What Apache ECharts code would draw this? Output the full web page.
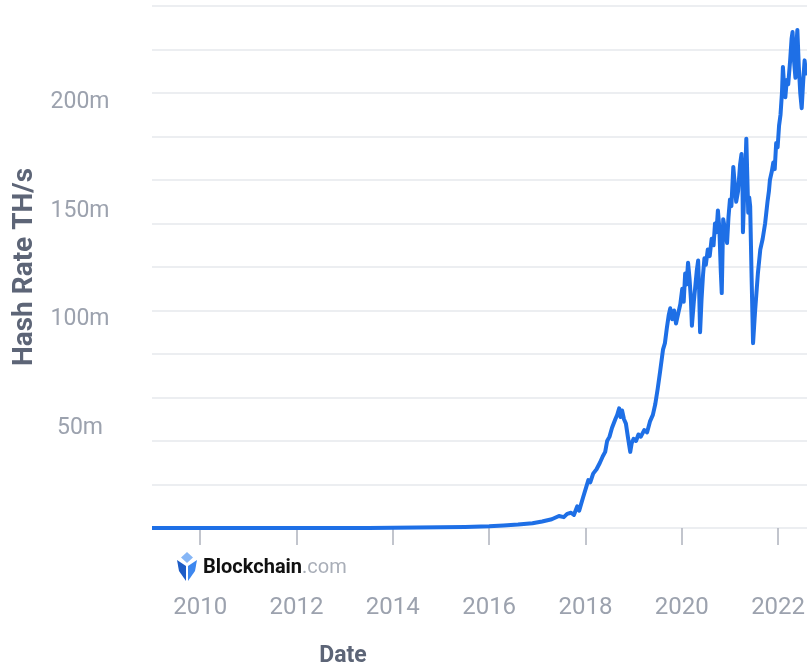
<!DOCTYPE html>
<html>
<head>
<meta charset="utf-8">
<script src="https://cdn.jsdelivr.net/npm/echarts@6/dist/echarts.min.js"></script>
<style>
html,body{margin:0;padding:0;background:#fff;}
#chart{width:807px;height:670px;}
</style>
</head>
<body>
<div id="chart"></div>
<script>
// decimal year of each reading
const years = [
2009.0,2010.0,2011.0,2012.0,2013.0,2013.5,2014.0,2014.5,2015.0,2015.5,
2016.0,2016.3,2016.6,2016.9,2017.1,2017.3,2017.45,2017.55,2017.62,2017.7,
2017.76,2017.83,2017.87,2017.95,2018.06,2018.1,2018.16,2018.23,2018.30,2018.36,
2018.41,2018.45,2018.50,2018.55,2018.62,2018.66,2018.70,2018.73,2018.76,2018.80,
2018.84,2018.88,2018.93,2018.96,2019.00,2019.05,2019.10,2019.15,2019.22,2019.28,
2019.34,2019.40,2019.45,2019.50,2019.55,2019.61,2019.65,2019.69,2019.73,2019.76,
2019.80,2019.84,2019.88,2019.93,2019.97,2020.01,2020.04,2020.07,2020.10,2020.13,
2020.16,2020.19,2020.21,2020.25,2020.28,2020.31,2020.34,2020.36,2020.38,2020.41,
2020.44,2020.47,2020.50,2020.54,2020.58,2020.62,2020.66,2020.69,2020.72,2020.75,
2020.78,2020.81,2020.83,2020.86,2020.90,2020.94,2020.97,2021.00,2021.03,2021.07,
2021.10,2021.13,2021.17,2021.21,2021.24,2021.26,2021.27,2021.29,2021.32,2021.34,
2021.36,2021.38,2021.40,2021.42,2021.45,2021.48,2021.50,2021.52,2021.55,2021.58,
2021.63,2021.68,2021.73,2021.78,2021.81,2021.83,2021.87,2021.90,2021.93,2021.96,
2021.99,2022.02,2022.05,2022.08,2022.10,2022.12,2022.15,2022.18,2022.21,2022.25,
2022.28,2022.30,2022.33,2022.36,2022.38,2022.40,2022.43,2022.46,2022.49,2022.52,
2022.55,2022.58,2022.62
];
// hash rate, millions of TH/s
const hashRate = [
0,0,0.001,0.01,0.02,0.05,0.1,0.2,0.3,0.45,
0.8,1.2,1.6,2.2,3,4,5.5,5,6.5,7,
6,10,8,14,22,21,25,27,30,33,
35,40,42,46,50,52,55,51,54,50,
48,42,35,39,41,40,43,42,45,44,
49,52,57,64,72,82,85,92,98,101,
96,100,94,99,103,110,104,117,112,122,
115,105,93,104,111,118,123,110,90,105,
116,124,121,128,125,133,130,140,136,146,
138,118,108,142,137,131,143,151,148,166,
158,150,155,167,172,160,136,150,165,179,
162,145,152,148,115,85,92,99,108,117,
128,133,140,150,155,160,164,168,165,177,
175,185,190,200,212,205,198,206,204,215,
225,228,215,207,222,229,212,200,193,205,
215,209,212
];
const yLabelValues = [50, 100, 150, 200];
const xLabelValues = [2010, 2012, 2014, 2016, 2018, 2020, 2022];

const seriesData = years.map((y, i) => [y, hashRate[i]]);

const chart = echarts.init(document.getElementById('chart'), null, {renderer: 'canvas'});
const labelColor = '#9ca2ae';
const titleColor = '#5d6577';
const font = 'Roboto, "Noto Sans", sans-serif';

chart.setOption({
  animation: false,
  backgroundColor: '#ffffff',
  grid: {left: 152, right: 0, top: 6, bottom: 142, containLabel: false, outerBoundsMode: 'none'},
  xAxis: {
    type: 'value',
    min: 2009,
    max: 2022.6,
    offset: 30,
    axisLine: {show: false},
    splitLine: {show: false},
    axisTick: {show: true, customValues: xLabelValues, length: 17,
      lineStyle: {color: '#aeb3bd', width: 1.5}},
    axisLabel: {customValues: xLabelValues, formatter: v => String(v),
      fontSize: 24, color: labelColor, fontFamily: font, margin: 38}
  },
  yAxis: [
    {
      type: 'value', min: 0, max: 240, interval: 20, position: 'left',
      axisLine: {show: false}, axisTick: {show: false},
      axisLabel: {show: false},
      splitLine: {show: true, lineStyle: {color: '#e6e8ec', width: 1.5}},
      name: 'Hash Rate TH/s', nameLocation: 'middle', nameGap: 113, nameRotate: 90,
      nameTextStyle: {fontSize: 28, fontWeight: 'bold', color: titleColor, fontFamily: font}
    },
    {
      type: 'value', min: 0, max: 240, position: 'left', offset: 0,
      axisLine: {show: false}, axisTick: {show: false},
      splitLine: {show: false},
      axisLabel: {customValues: yLabelValues, formatter: v => v + 'm',
        fontSize: 23, color: labelColor, fontFamily: font, align: 'center',
        verticalAlign: 'top', lineHeight: 18, margin: 72}
    }
  ],
  series: [{
    type: 'line',
    yAxisIndex: 0,
    data: seriesData,
    showSymbol: false,
    smooth: false,
    lineStyle: {color: '#1e6fe6', width: 4, join: 'round'},
    z: 5
  }],
  graphic: [
    {type: 'rect', z: 100, shape: {x: 202, y: 552, width: 148, height: 30}, style: {fill: '#ffffff'}},
    {type: 'polygon', z: 101, shape: {points: [[187,552],[193,557.5],[187,563],[181,557.5]]}, style: {fill: '#86b6f6'}},
    {type: 'polygon', z: 101, shape: {points: [[177,560],[186,566],[186,581],[179,571]]}, style: {fill: '#1d5cc6'}},
    {type: 'polygon', z: 101, shape: {points: [[197,560],[188,566],[188,581],[195,571]]}, style: {fill: '#3d87ef'}},
    {type: 'text', z: 101, x: 203, y: 568, style: {
      text: '{b|Blockchain}{c|.com}', verticalAlign: 'middle', align: 'left',
      rich: {
        b: {fontSize: 20, fontWeight: 'bold', fill: '#111111', fontFamily: font},
        c: {fontSize: 20, fill: '#a9aeb8', fontFamily: font}
      }
    }},
    {type: 'text', z: 101, x: 343, y: 656, style: {
      text: 'Date', align: 'center', verticalAlign: 'middle',
      fontSize: 23, fontWeight: 'bold', fill: titleColor, fontFamily: font
    }}
  ]
});
</script>
</body>
</html>
